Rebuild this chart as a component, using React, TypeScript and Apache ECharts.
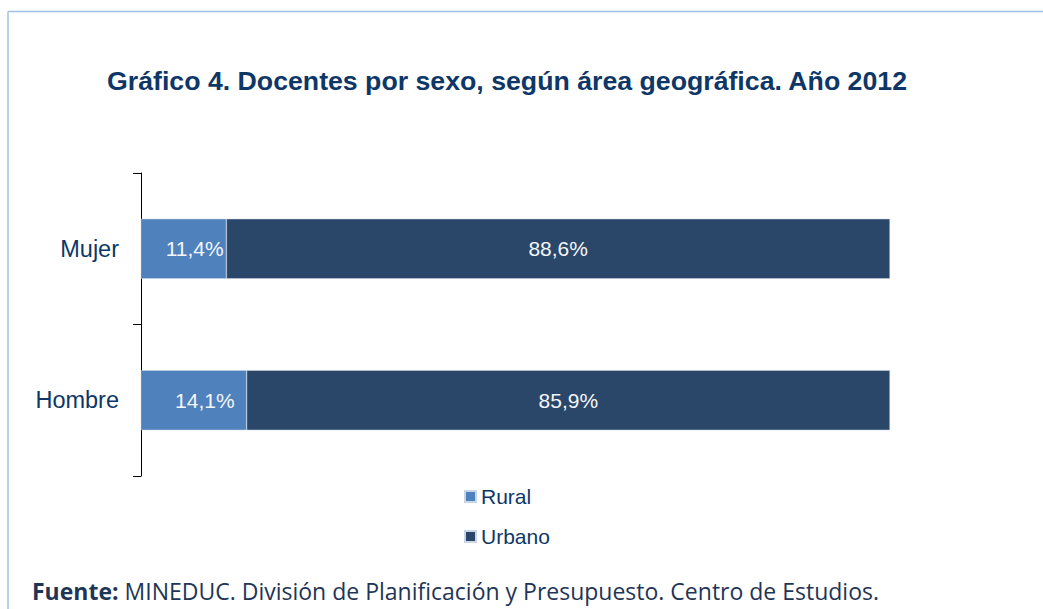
import React, { useEffect, useRef } from "react";
import * as echarts from "echarts";

const categories = ["Mujer", "Hombre"];
const ruralValues = [11.4, 14.1];
const urbanoValues = [88.6, 85.9];
const seriesNames = ["Rural", "Urbano"];
const titleText = "Gráfico 4. Docentes por sexo, según área geográfica. Año 2012";
const sourceBold = "Fuente:";
const sourceText = " MINEDUC. División de Planificación y Presupuesto. Centro de Estudios.";

const fmt = (v: number) => v.toFixed(1).replace(".", ",") + "%";

export default function App() {
  const ref = useRef<HTMLDivElement>(null);
  useEffect(() => {
    if (!ref.current) return;
    const chart = echarts.init(ref.current, null, { renderer: "svg" });
    const font = "'Liberation Sans', Arial, sans-serif";
    chart.setOption({
      animation: false,
      backgroundColor: "#ffffff",
      title: {
        text: titleText,
        left: 502,
        textAlign: "center",
        top: 62,
        textStyle: { fontFamily: font, fontWeight: "bold", fontSize: 26.7, color: "#0e3767" },
      },
      grid: { left: 141, right: 153, top: 173, bottom: 133, containLabel: false },
      xAxis: { type: "value", min: 0, max: 100, show: false },
      yAxis: {
        type: "category",
        inverse: true,
        data: categories,
        axisLine: { show: true, lineStyle: { color: "#000000", width: 1 } },
        axisTick: { show: true, length: 8, lineStyle: { color: "#000000" } },
        axisLabel: { margin: 22, fontFamily: font, fontSize: 23.5, color: "#0e3767" },
        splitLine: { show: false },
      },
      legend: {
        orient: "vertical",
        left: 459,
        top: 481,
        itemWidth: 11,
        itemHeight: 11,
        itemGap: 19,
        icon: "rect",
        data: seriesNames,
        textStyle: { fontFamily: font, fontSize: 21, color: "#0e3767" },
      },
      series: [
        {
          name: seriesNames[0],
          type: "bar",
          stack: "total",
          barWidth: 60,
          data: ruralValues,
          itemStyle: { color: "#4f81bd", borderColor: "#c9d6e6", borderWidth: 0.5 },
          label: {
            show: true,
            position: "inside",
            offset: [11, 0],
            formatter: (p: any) => fmt(p.value),
            fontFamily: font,
            fontSize: 21,
            color: "#f4f6f9",
          },
        },
        {
          name: seriesNames[1],
          type: "bar",
          stack: "total",
          barWidth: 60,
          data: urbanoValues,
          itemStyle: { color: "#2a4769", borderColor: "#c9d6e6", borderWidth: 0.5 },
          label: {
            show: true,
            position: "inside",
            formatter: (p: any) => fmt(p.value),
            fontFamily: font,
            fontSize: 21,
            color: "#f4f6f9",
          },
        },
      ],
      graphic: [
        { type: "line", shape: { x1: 8, y1: 11.5, x2: 1043, y2: 11.5 }, style: { stroke: "#9fc0e6", lineWidth: 1.5 } },
        { type: "line", shape: { x1: 8, y1: 11.5, x2: 8, y2: 609 }, style: { stroke: "#9fc0e6", lineWidth: 1.5 } },
        {
          type: "text",
          left: 32,
          top: 579,
          style: {
            rich: {
              b: { fontFamily: "'Open Sans', sans-serif", fontWeight: "bold", fontSize: 23, fill: "#1f3556" },
              n: { fontFamily: "'Open Sans', sans-serif", fontSize: 23, fill: "#1f3556" },
            },
            text: "{b|" + sourceBold + "}{n|" + sourceText + "}",
          },
        },
      ],
    });
    return () => chart.dispose();
  }, []);
  return <div ref={ref} style={{ width: 1043, height: 609, position: "absolute", left: 0, top: 0 }} />;
}
